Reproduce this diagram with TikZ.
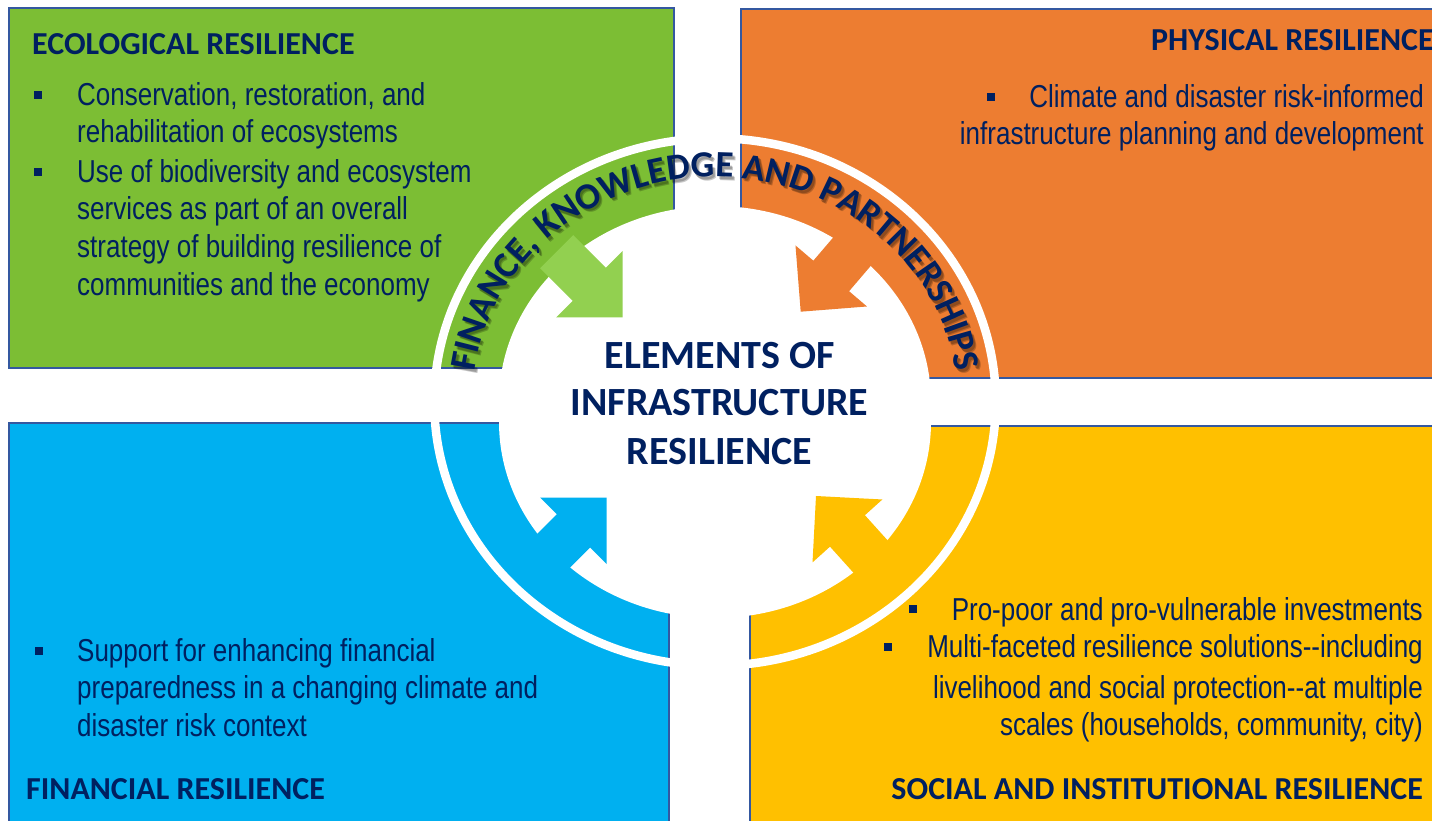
\documentclass[tikz,border=0pt]{standalone}
\usepackage{fontspec}
\usetikzlibrary{decorations.text}
\setmainfont{Liberation Sans}
\newfontfamily\headfont{Carlito}
\newfontfamily\narrowfont[FakeStretch=0.82]{Liberation Sans}

\definecolor{ecogreen}{RGB}{124,190,52}
\definecolor{arrowgreen}{RGB}{146,208,80}
\definecolor{physorange}{RGB}{237,125,49}
\definecolor{finblue}{RGB}{0,176,240}
\definecolor{socyellow}{RGB}{255,192,0}
\definecolor{navy}{RGB}{0,32,96}
\definecolor{edgeblue}{RGB}{52,88,160}

\begin{document}
\begin{tikzpicture}[x=1pt,y=1pt,
  quad/.style={draw=edgeblue, line width=1.5pt},
  heading/.style={font=\headfont\bfseries\fontsize{32}{36}\selectfont, text=navy, inner sep=0pt},
  title/.style={font=\headfont\bfseries\fontsize{40}{48}\selectfont, text=navy, inner sep=0pt, anchor=base},
  body/.style={font=\narrowfont\fontsize{31.7}{38}\selectfont, text=navy, inner sep=0pt},
  bodyL/.style={body, anchor=base west},
  bodyR/.style={body, anchor=base east},
  bulletsq/.style={fill=navy, minimum size=8pt, inner sep=0pt},
  blockarrow/.pic={\fill (0,0) -- (-47,47) -- (-47,23.5) -- (-93,23.5) -- (-93,-23.5) -- (-47,-23.5) -- (-47,-47) -- cycle;},
  ringtext/.style={decorate, decoration={text along path, text align=center, text color=#1,
    text={|\headfont\bfseries\fontsize{37}{37}\selectfont|FINANCE, KNOWLEDGE AND PARTNERSHIPS}}},
  ringarc/.style={x radius=243, y radius=225},
]
\useasboundingbox (0,0) rectangle (1432,820);
\begin{scope}
\clip (0,0) rectangle (1432,820);

% four resilience quadrants
\path[quad, fill=ecogreen]   (9,812)   rectangle (674,452);
\path[quad, fill=physorange] (741,811) rectangle (1445,442);
\path[quad, fill=finblue]    (9,397)   rectangle (669,-10);
\path[quad, fill=socyellow]  (750,394) rectangle (1445,-10);

% white separating ring
\fill[white, even odd rule]
  (715,418) ellipse [x radius=285, y radius=268]
  (715,418) ellipse [x radius=276.5, y radius=259.5];

% white centre
\fill[white] (499,418) arc[start angle=180, end angle=0, x radius=216, y radius=196]
  -- (931,398) arc[start angle=0, end angle=-180, x radius=216, y radius=196] -- cycle;

% inward block arrows
\pic[rotate=-45, fill=arrowgreen] (ga) at (622.5,502.5) {blockarrow};
\pic[rotate=229.5, fill=physorange] (oa) at (800.7,508.3) {blockarrow};
\pic[rotate=45, fill=finblue] (ba) at (606.7,322.3) {blockarrow};
\pic[rotate=132, fill=socyellow] (ya) at (816,324) {blockarrow};

% curved banner text with soft drop shadow
\begin{scope}[opacity=0.22]
\path[ringtext=black] (474,415.5) arc[start angle=180, end angle=0, ringarc];
\path[ringtext=black] (475,414.5) arc[start angle=180, end angle=0, ringarc];
\end{scope}
\path[ringtext=navy] (472,418) arc[start angle=180, end angle=0, ringarc];

% centre title
\node[title] (t1) at (719.5,451.7) {ELEMENTS OF};
\node[title] (t2) at (719.5,404) {INFRASTRUCTURE};
\node[title] (t3) at (719.5,355.7) {RESILIENCE};

% ecological resilience
\node[heading, anchor=base west] (ecoh) at (32,765) {ECOLOGICAL RESILIENCE};
\node[bulletsq] (eb1) at (38,725) {};
\node[bodyL] (e1) at (77,714) {Conservation, restoration, and};
\node[bodyL] (e2) at (77,677.3) {rehabilitation of ecosystems};
\node[bulletsq] (eb2) at (38,648.3) {};
\node[bodyL] (e3) at (77,637.3) {Use of biodiversity and ecosystem};
\node[bodyL] (e4) at (77,600) {services as part of an overall};
\node[bodyL] (e5) at (77,562.7) {strategy of building resilience of};
\node[bodyL] (e6) at (77,524) {communities and the economy};

% physical resilience
\node[heading, anchor=base west] (phyh) at (1151,769.3) {PHYSICAL RESILIENCE};
\node[bulletsq] (pb1) at (991,723.3) {};
\node[bodyR] (p1) at (1424,712) {Climate and disaster risk-informed};
\node[bodyR] (p2) at (1424,675) {infrastructure planning and development};

% financial resilience
\node[bulletsq] (fb1) at (39,169.3) {};
\node[bodyL] (f1) at (77,158.3) {Support for enhancing financial};
\node[bodyL] (f2) at (77,121.7) {preparedness in a changing climate and};
\node[bodyL] (f3) at (77,83.3) {disaster risk context};
\node[heading, anchor=base west] (finh) at (26,21) {FINANCIAL RESILIENCE};

% social and institutional resilience
\node[bulletsq] (sb1) at (913,211) {};
\node[bodyR] (s1) at (1423,199.3) {Pro-poor and pro-vulnerable investments};
\node[bulletsq] (sb2) at (888,173) {};
\node[bodyR] (s2) at (1423,162.7) {Multi-faceted resilience solutions--including};
\node[bodyR] (s3) at (1423,121.7) {livelihood and social protection--at multiple};
\node[bodyR] (s4) at (1423,85) {scales (households, community, city)};
\node[heading, anchor=base east] (soch) at (1423,20.7) {SOCIAL AND INSTITUTIONAL RESILIENCE};
\end{scope}
\end{tikzpicture}
\end{document}
